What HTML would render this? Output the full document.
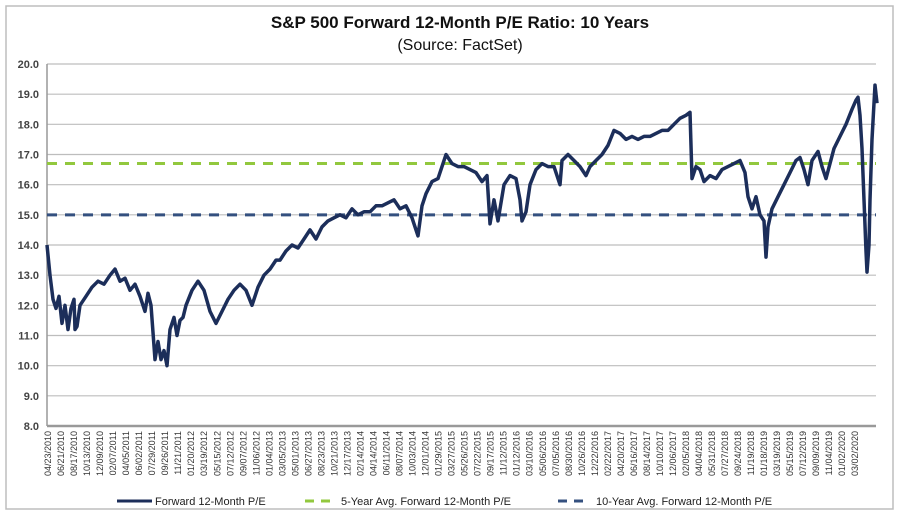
<!DOCTYPE html>
<html><head><meta charset="utf-8"><style>
body{margin:0;background:#fff;font-family:"Liberation Sans",sans-serif;}
svg{display:block}
</style></head><body>
<svg id="c" width="900" height="516">
<rect x="6" y="6" width="887" height="503" fill="#fff" stroke="#bdbdbd" stroke-width="1.5"/>
<text x="460" y="28" text-anchor="middle" font-size="17" font-weight="bold" fill="#111">S&amp;P 500 Forward 12-Month P/E Ratio: 10 Years</text>
<text x="460" y="50" text-anchor="middle" font-size="16" fill="#111">(Source: FactSet)</text>
<g id="grid"></g><g id="ylab"></g><g id="xlab"></g><g id="lines"></g>
<g>
<line x1="117" y1="501" x2="152" y2="501" stroke="#1c2e5a" stroke-width="3"/>
<text x="155" y="505" font-size="11" fill="#222">Forward 12-Month P/E</text>
<line x1="305" y1="501" x2="336" y2="501" stroke="#92c83e" stroke-width="3" stroke-dasharray="9,7"/>
<text x="341" y="505" font-size="11" fill="#222">5-Year Avg. Forward 12-Month P/E</text>
<line x1="558" y1="501" x2="590" y2="501" stroke="#34507f" stroke-width="3" stroke-dasharray="9,7"/>
<text x="596" y="505" font-size="11" fill="#222">10-Year Avg. Forward 12-Month P/E</text>
</g>
</svg>
<script>
const dates=["04/23/2010","06/21/2010","08/17/2010","10/13/2010","12/09/2010","02/07/2011","04/05/2011","06/02/2011","07/29/2011","09/26/2011","11/21/2011","01/20/2012","03/19/2012","05/15/2012","07/12/2012","09/07/2012","11/06/2012","01/04/2013","03/05/2013","05/01/2013","06/27/2013","08/23/2013","10/21/2013","12/17/2013","02/14/2014","04/14/2014","06/11/2014","08/07/2014","10/03/2014","12/01/2014","01/29/2015","03/27/2015","05/26/2015","07/22/2015","09/17/2015","11/12/2015","01/12/2016","03/10/2016","05/06/2016","07/05/2016","08/30/2016","10/26/2016","12/22/2016","02/22/2017","04/20/2017","06/16/2017","08/14/2017","10/10/2017","12/06/2017","02/05/2018","04/04/2018","05/31/2018","07/27/2018","09/24/2018","11/19/2018","01/18/2019","03/19/2019","05/15/2019","07/12/2019","09/09/2019","11/04/2019","01/02/2020","03/02/2020"];
const yTicks=[8,9,10,11,12,13,14,15,16,17,18,19,20];
// time in periods since start (0..830)
const periods=[0,3,6,9,12,15,18,21,24,27,28,30,33,39,45,51,57,63,68,73,78,83,88,93,98,101,104,108,111,114,117,120,123,127,130,133,136,139,145,151,157,163,169,175,181,187,193,199,205,211,217,223,229,233,239,245,251,257,263,269,275,281,287,293,299,305,311,317,323,329,335,341,347,353,359,365,369,371,375,379,385,391,396,399,405,411,417,423,429,435,440,443,447,451,457,463,469,473,475,479,483,489,495,501,507,513,515,521,527,533,539,543,549,555,561,567,573,579,585,591,597,603,609,615,621,627,633,639,643,645,649,653,657,663,669,675,681,687,693,698,701,705,709,713,717,719,721,725,731,737,743,749,753,757,761,765,771,775,779,783,787,793,799,805,809,811,813,815,817,819,820,822,823,825,827,828,830];
const values=[14.0,13.0,12.2,11.9,12.3,11.4,12.0,11.2,11.9,12.2,11.2,11.3,12.0,12.3,12.6,12.8,12.7,13.0,13.2,12.8,12.9,12.5,12.7,12.3,11.8,12.4,12.0,10.2,10.8,10.2,10.5,10.0,11.2,11.6,11.0,11.5,11.6,12.0,12.5,12.8,12.5,11.8,11.4,11.8,12.2,12.5,12.7,12.5,12.0,12.6,13.0,13.2,13.5,13.5,13.8,14.0,13.9,14.2,14.5,14.2,14.6,14.8,14.9,15.0,14.9,15.2,15.0,15.1,15.1,15.3,15.3,15.4,15.5,15.2,15.3,14.9,14.5,14.3,15.3,15.7,16.1,16.2,16.7,17.0,16.7,16.6,16.6,16.5,16.4,16.1,16.3,14.7,15.5,14.8,16.0,16.3,16.2,15.5,14.8,15.1,16.0,16.5,16.7,16.6,16.6,16.0,16.8,17.0,16.8,16.6,16.3,16.6,16.8,17.0,17.3,17.8,17.7,17.5,17.6,17.5,17.6,17.6,17.7,17.8,17.8,18.0,18.2,18.3,18.4,16.2,16.6,16.5,16.1,16.3,16.2,16.5,16.6,16.7,16.8,16.4,15.6,15.2,15.6,15.0,14.8,13.6,14.6,15.2,15.6,16.0,16.4,16.8,16.9,16.5,16.0,16.8,17.1,16.6,16.2,16.7,17.2,17.6,18.0,18.5,18.8,18.9,18.3,17.2,15.5,13.8,13.1,14.0,15.5,17.5,18.7,19.3,18.7];
const avg5=[16.7];
const avg10=[15.0];
const NS="http://www.w3.org/2000/svg";
const L=47,R=876,T=64,B=426;
const y=v=>B-(v-8)/12*(B-T);
const xp=p=>L+p;
const xl=i=>48+i*13.02;
function mk(tag,parent,attrs){const e=document.createElementNS(NS,tag);for(const k in attrs)e.setAttribute(k,attrs[k]);parent.appendChild(e);return e;}
const grid=document.getElementById('grid'),ylab=document.getElementById('ylab'),xlab=document.getElementById('xlab'),lines=document.getElementById('lines');
yTicks.forEach(v=>{
 const g=mk('line',grid,{x1:L,x2:R,y1:y(v),y2:y(v),stroke:v===8?'#999':'#bdbdbd','stroke-width':v===8?2.5:1.2});
 
 
 const t=mk('text',ylab,{x:39,y:y(v)+4,'text-anchor':'end','font-size':11,'font-weight':'bold',fill:'#444'});
 t.textContent=v.toFixed(1);
 
 
});
const ax=mk('line',grid,{x1:L,x2:L,y1:T,y2:B,stroke:'#999','stroke-width':1.5});


dates.forEach((d,i)=>{
 const t=mk('text',xlab,{transform:`translate(${xl(i)+3},431) rotate(-90)`,'text-anchor':'end','font-size':9,fill:'#333'});
 t.textContent=d;
 
 
});
const l5=mk('line',lines,{x1:L,x2:R,y1:y(avg5[0]),y2:y(avg5[0]),stroke:'#92c83e','stroke-width':3,'stroke-dasharray':'10,8'});


const l10=mk('line',lines,{x1:L,x2:R,y1:y(avg10[0]),y2:y(avg10[0]),stroke:'#34507f','stroke-width':3,'stroke-dasharray':'10,8'});


const pts=periods.map((p,i)=>xp(p).toFixed(1)+','+y(values[i]).toFixed(1)).join(' ');
const pl=mk('polyline',lines,{points:pts,fill:'none',stroke:'#1c2e5a','stroke-width':3.5,'stroke-linejoin':'round'});


</script>
</body></html>
